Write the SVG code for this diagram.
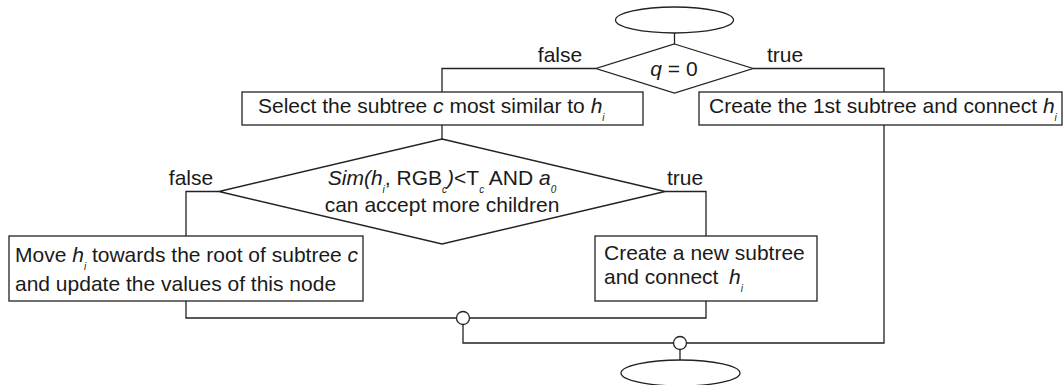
<svg xmlns="http://www.w3.org/2000/svg" width="1064" height="385" viewBox="0 0 1064 385">
  <style>
    .shape { fill: #ffffff; stroke: #222222; stroke-width: 1.3; }
    .wire { fill: none; stroke: #222222; stroke-width: 1.3; }
    text { font-family: "Liberation Sans", Arial, sans-serif; font-size: 21px; fill: #1a1a1a; }
    .it { font-style: italic; }
    .sub { font-size: 10px; font-style: italic; }
  </style>

  <!-- connectors -->
  <g id="connectors">
    <path class="wire" d="M674.5 33 V44"/>
    <path class="wire" d="M596 68.5 H442 V92"/>
    <path class="wire" d="M753 68.5 H884 V92"/>
    <path class="wire" d="M442 125 V139"/>
    <path class="wire" d="M219 191.5 H186 V236"/>
    <path class="wire" d="M665 191.5 H706 V236"/>
    <path class="wire" d="M186 301 V318 H456.5"/>
    <path class="wire" d="M706 301 V318 H469.5"/>
    <path class="wire" d="M463 324.5 V343 H673.5"/>
    <path class="wire" d="M884 125 V343 H686.5"/>
    <path class="wire" d="M680 349.5 V360"/>
  </g>

  <g id="start">
    <ellipse class="shape" cx="674.5" cy="20" rx="59" ry="13"/>
  </g>

  <g id="decision-q">
    <polygon class="shape" points="674.5,44 753,68.5 674.5,93 596,68.5"/>
    <text x="674" y="76" text-anchor="middle"><tspan class="it">q</tspan> = 0</text>
    <text x="560" y="62" text-anchor="middle">false</text>
    <text x="767" y="62">true</text>
  </g>

  <g id="select-subtree">
    <rect class="shape" x="242" y="92" width="401" height="33"/>
    <text x="258" y="113">Select the subtree <tspan class="it">c</tspan> most similar to <tspan class="it">h</tspan><tspan class="sub" dy="8">i</tspan></text>
  </g>

  <g id="first-subtree">
    <rect class="shape" x="699" y="92" width="363" height="33"/>
    <text x="709" y="113">Create the 1st subtree and connect <tspan class="it">h</tspan><tspan class="sub" dy="8">i</tspan></text>
  </g>

  <g id="decision-sim">
    <polygon class="shape" points="442,139 665,191.5 442,244 219,191.5"/>
    <text x="442" y="185" text-anchor="middle"><tspan class="it">Sim(h</tspan><tspan class="sub" dy="8">i</tspan><tspan dy="-8">, RGB</tspan><tspan class="sub" dy="8">c</tspan><tspan class="it" dy="-8">)</tspan>&lt;T<tspan class="sub" dy="8">c</tspan><tspan dy="-8"> AND </tspan><tspan class="it">a</tspan><tspan class="sub" dy="8">0</tspan></text>
    <text x="442" y="212" text-anchor="middle">can accept more children</text>
    <text x="191" y="185" text-anchor="middle">false</text>
    <text x="667" y="185">true</text>
  </g>

  <g id="move-node">
    <rect class="shape" x="9" y="236" width="354" height="65"/>
    <text x="15" y="262">Move <tspan class="it">h</tspan><tspan class="sub" dy="8">i</tspan><tspan dy="-8"> towards the root of subtree </tspan><tspan class="it">c</tspan></text>
    <text x="15" y="291">and update the values of this node</text>
  </g>

  <g id="new-subtree">
    <rect class="shape" x="595" y="236" width="222" height="65"/>
    <text x="604" y="260">Create a new subtree</text>
    <text x="604" y="284">and connect<tspan class="it" x="729">h</tspan><tspan class="sub" dy="8">i</tspan></text>
  </g>

  <g id="merge-inner">
    <circle class="shape" cx="463" cy="318" r="6.5"/>
  </g>

  <g id="merge-outer">
    <circle class="shape" cx="680" cy="343" r="6.5"/>
  </g>

  <g id="end">
    <ellipse class="shape" cx="680.5" cy="373" rx="59.5" ry="13"/>
  </g>
</svg>
